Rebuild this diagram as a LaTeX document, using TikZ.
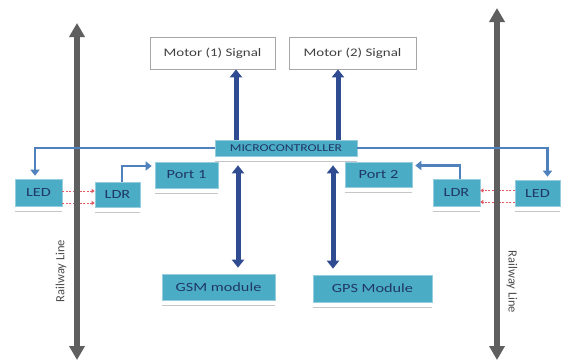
\documentclass[tikz,border=0pt]{standalone}
\usepackage{fontspec}
\setmainfont{Carlito}
\newfontfamily\boxfont[FakeStretch=1.3]{Carlito}
\usetikzlibrary{arrows.meta}
\definecolor{teal1}{RGB}{75,172,198}
\definecolor{tealedge}{RGB}{150,205,222}
\definecolor{navy}{RGB}{31,56,100}
\definecolor{linkblue}{RGB}{79,129,189}
\definecolor{busblue}{RGB}{47,75,145}
\definecolor{railgray}{RGB}{95,95,95}
\definecolor{sigred}{RGB}{225,90,100}
\begin{document}
\begin{tikzpicture}[x=1pt,y=-1pt,
  tbox/.style={draw=tealedge, line width=0.6pt, fill=teal1, text=navy,
    font=\boxfont\fontsize{12.5}{13}\selectfont, inner sep=0pt},
  mbox/.style={draw=gray!70, line width=0.8pt, fill=white, text=black!75,
    font=\boxfont\fontsize{11.5}{12}\selectfont, inner sep=0pt},
  refl/.style={gray!45, line width=0.8pt},
  rail/.style={railgray, line width=6pt,
    {Triangle[width=15pt,length=14pt]}-{Triangle[width=15pt,length=14pt]}},
  railtext/.style={text=black!70, font=\fontsize{12.5}{13}\selectfont, inner sep=0pt},
  bus/.style={busblue, line width=5pt, -{Triangle[width=12pt,length=8pt]}},
  busboth/.style={busblue, line width=5pt,
    {Triangle[width=12pt,length=8pt]}-{Triangle[width=12pt,length=8pt]}},
  link/.style={linkblue, line width=2.2pt, -{Triangle[width=9pt,length=6pt]}},
  signal/.style={sigred, line width=0.8pt, dash pattern=on 2pt off 1.5pt,
    -{Triangle[width=4pt,length=3pt]}}
]
\useasboundingbox (0,0) rectangle (562,362);
\fill[white] (0,0) rectangle (562,362);

% boxes
\node[mbox, minimum width=125pt, minimum height=32pt] (motor1) at (212.5,53) {Motor (1) Signal};
\node[mbox, minimum width=127pt, minimum height=32pt] (motor2) at (352.5,53) {Motor (2) Signal};
\node[tbox, minimum width=142pt, minimum height=16pt, font=\boxfont\fontsize{10.5}{11}\selectfont] (micro) at (286,148) {MICROCONTROLLER};
\node[tbox, minimum width=63pt, minimum height=26pt] (port1) at (186.5,175) {Port 1};
\node[tbox, minimum width=67pt, minimum height=25pt] (port2) at (378.5,174.5) {Port 2};
\node[tbox, minimum width=47pt, minimum height=27pt] (ledL) at (38.5,192.5) {LED};
\node[tbox, minimum width=45pt, minimum height=25pt] (ldrL) at (117.5,194.5) {LDR};
\node[tbox, minimum width=47pt, minimum height=27pt] (ldrR) at (456.5,192.5) {LDR};
\node[tbox, minimum width=45pt, minimum height=26pt] (ledR) at (537.5,193) {LED};
\node[tbox, minimum width=113pt, minimum height=26pt] (gsm) at (218.5,287) {GSM module};
\node[tbox, minimum width=119pt, minimum height=27pt] (gps) at (372.5,288.5) {GPS Module};

% reflections under teal boxes
\foreach \n in {micro,port1,port2,ledL,ldrL,ldrR,ledR,gsm,gps}
  \draw[refl] ([yshift=-5pt]\n.south west) -- ([yshift=-5pt]\n.south east);

% light signals LED -> LDR (under the rails)
\draw[signal] ([yshift=1.5pt]ledL.east) -- ([yshift=1.5pt]ledL.east -| ldrL.west);
\draw[signal] ([yshift=-10.5pt]ledL.east) -- ([yshift=-10.5pt]ledL.east -| ldrL.west);
\draw[signal] ([yshift=2.5pt]ledR.west) -- ([yshift=2.5pt]ledR.west -| ldrR.east);
\draw[signal] ([yshift=-9pt]ledR.west) -- ([yshift=-9pt]ledR.west -| ldrR.east);

% railway lines
\coordinate (railLtop) at (77,23);
\coordinate (railLbot) at (77,360);
\coordinate (railRtop) at (497,8);
\coordinate (railRbot) at (497,360);
\draw[rail] (railLtop) -- (railLbot);
\draw[rail] (railRtop) -- (railRbot);
\node[railtext, rotate=90] (railLtext) at (61,271) {Railway Line};
\node[railtext, rotate=-90] (railRtext) at (512,282) {Railway Line};

% microcontroller -> LEDs
\draw[link] (micro.west) -| ([xshift=-3.5pt,yshift=3pt]ledL.north);
\draw[link] (micro.east) -| ([xshift=10pt,yshift=3pt]ledR.north);

% LDR -> ports
\draw[link, shorten >=3pt] ([xshift=4.5pt]ldrL.north) |- ([yshift=9pt]port1.west);
\draw[link, shorten >=3pt] ([xshift=3.5pt]ldrR.north) |- ([yshift=9pt]port2.east);

% microcontroller -> motors
\coordinate (m1x) at (236,0);
\coordinate (m2x) at (338,0);
\draw[bus] (m1x |- micro.north) -- (m1x |- motor1.south);
\draw[bus] (m2x |- micro.north) -- (m2x |- motor2.south);

% microcontroller <-> modules
\coordinate (g1x) at (238,0);
\coordinate (g2x) at (333,0);
\draw[busboth] ([yshift=-9pt]g1x |- micro.south) -- ([yshift=6pt]g1x |- gsm.north);
\draw[busboth] ([yshift=-9pt]g2x |- micro.south) -- ([yshift=6pt]g2x |- gps.north);
\end{tikzpicture}
\end{document}
